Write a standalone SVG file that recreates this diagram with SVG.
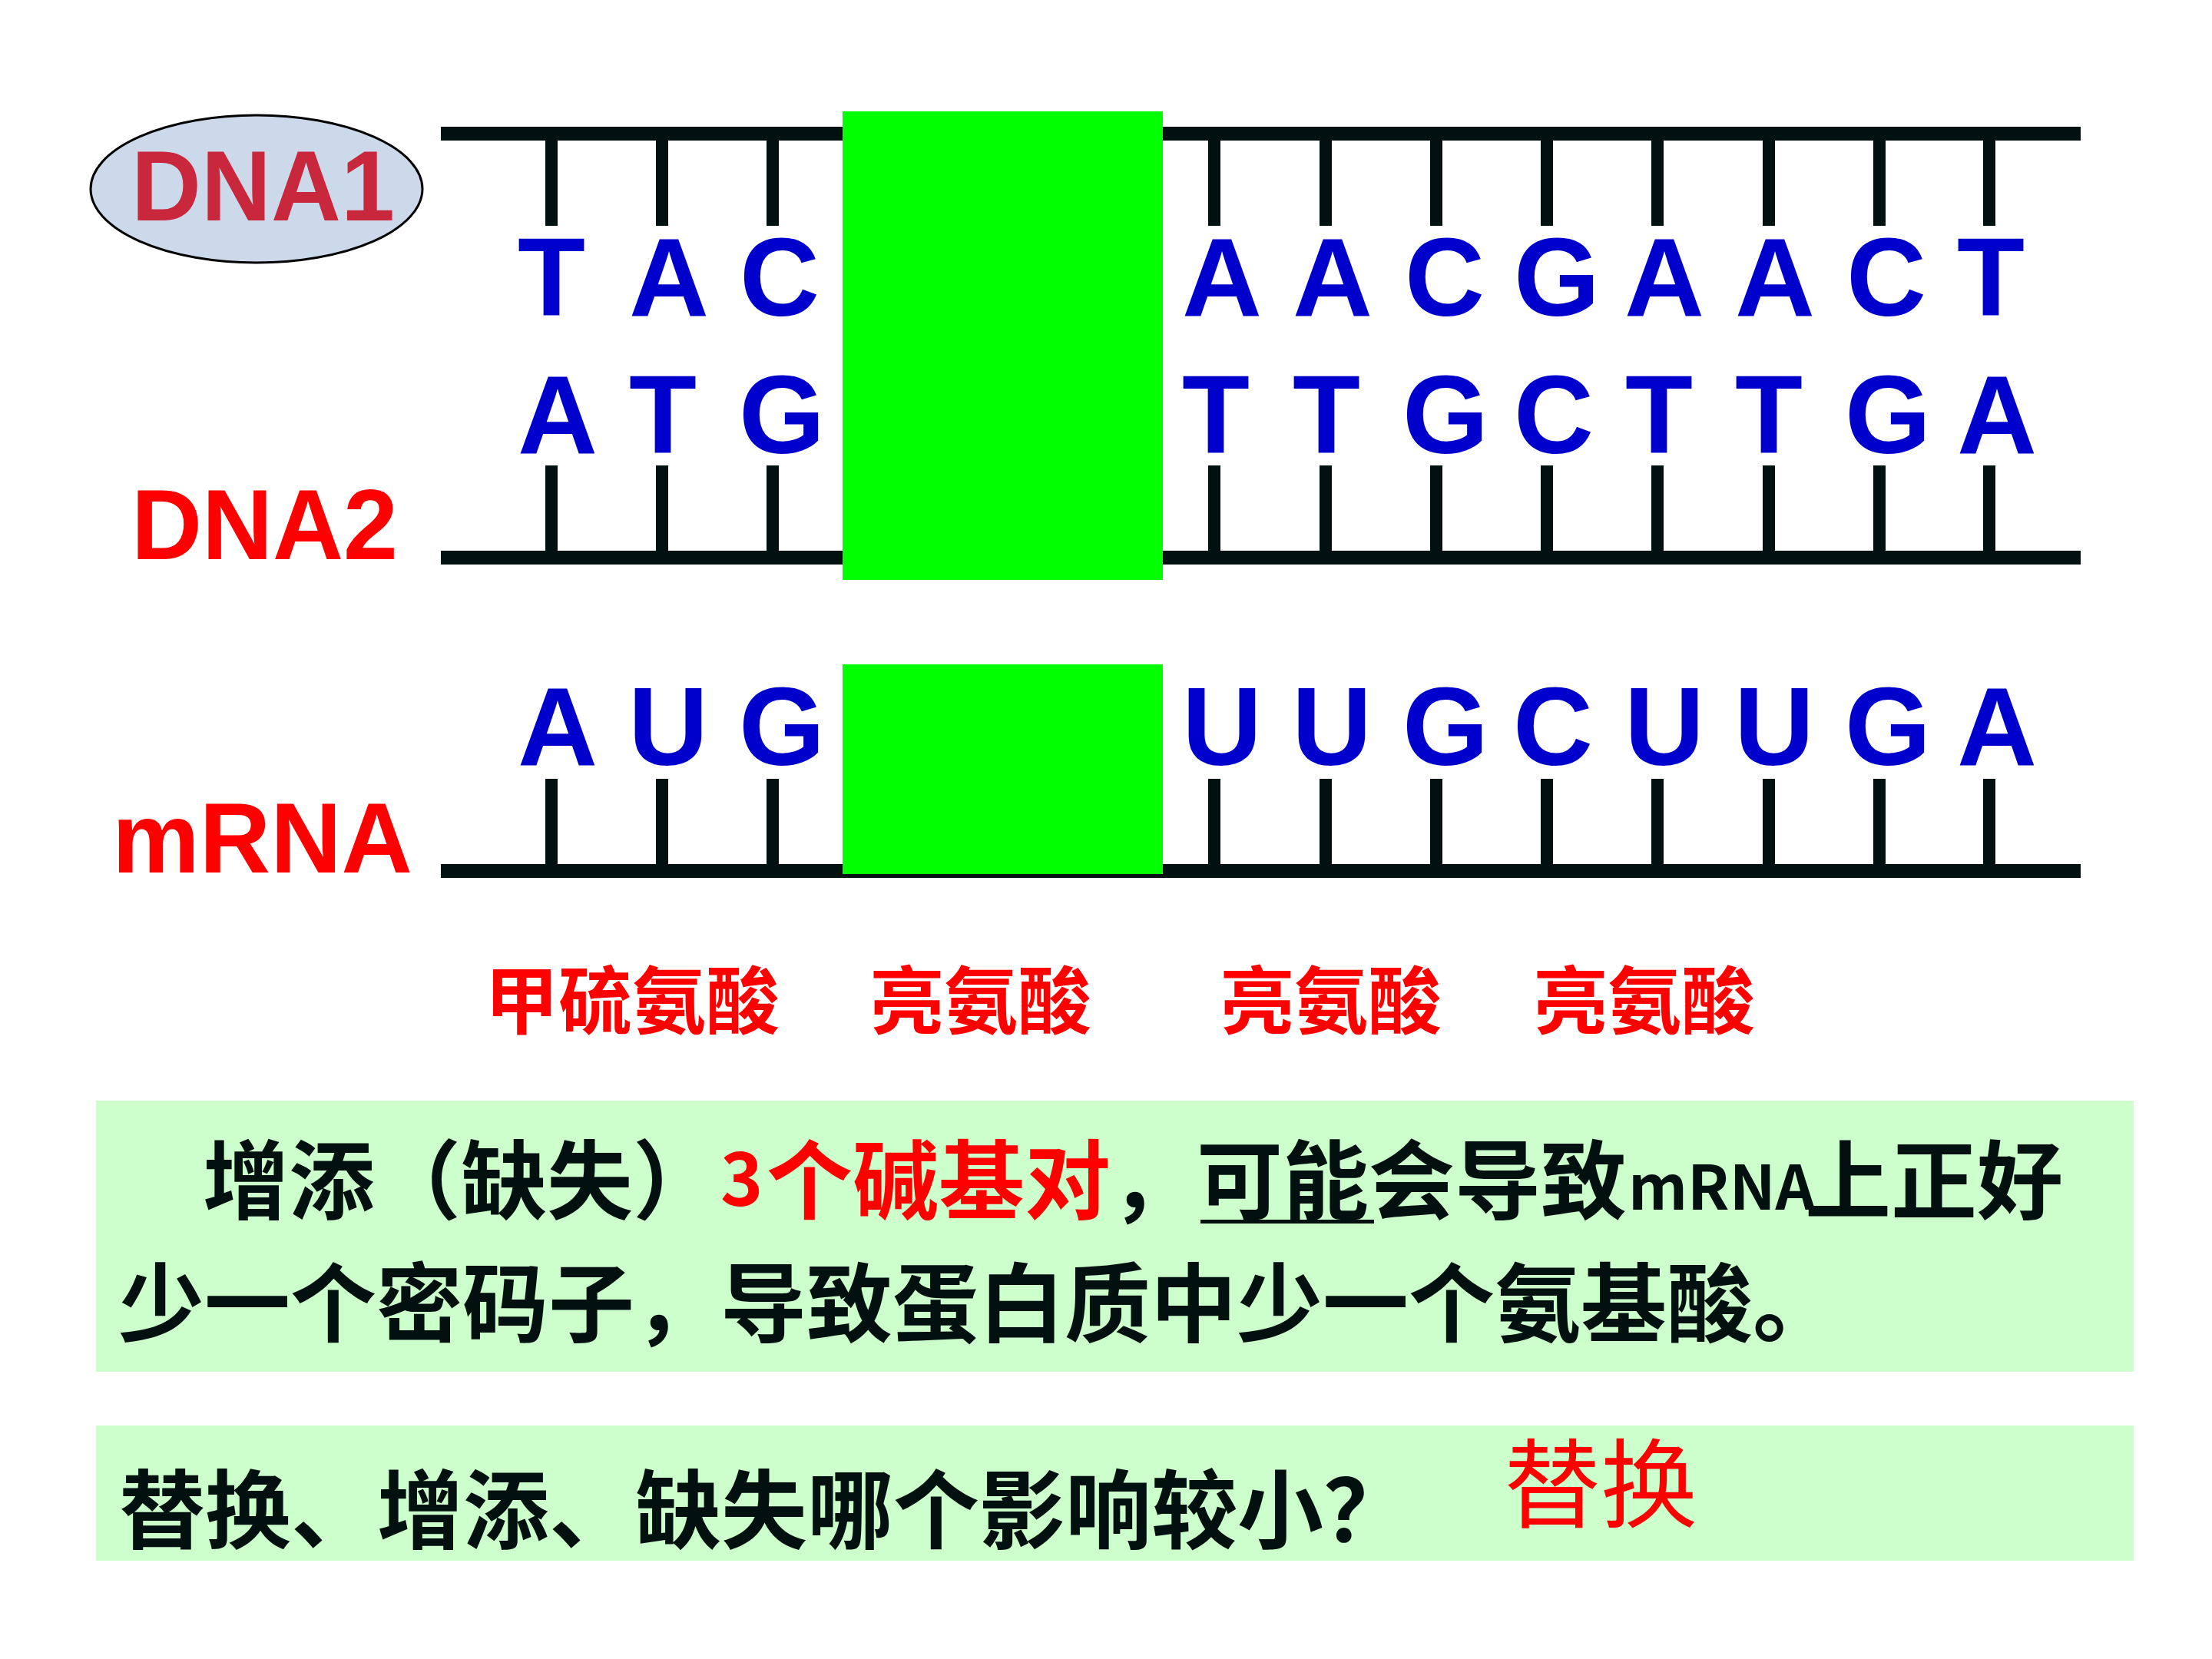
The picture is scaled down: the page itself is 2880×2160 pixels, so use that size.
<svg xmlns="http://www.w3.org/2000/svg" width="2880" height="2160" viewBox="0 0 2880 2160">
  <style>
    .bb { fill: #011111; }
    .tick { fill: #011111; }
    .green { fill: #00FF00; }
    .base { font-family: "Liberation Sans", Arial, sans-serif; font-weight: bold; font-size: 144px; fill: #0000CC; text-anchor: middle; }
    .lbl { font-family: "Liberation Sans", Arial, sans-serif; font-weight: bold; font-size: 130px; }
    .aa { font-family: "Noto Sans CJK SC", "Noto Sans CJK TC", sans-serif; font-weight: 700; font-size: 96px; fill: #FF0000; }
    .cn { font-family: "Noto Sans CJK SC", "Noto Sans CJK TC", sans-serif; font-weight: 700; font-size: 112px; fill: #021010; }
    .answer { font-family: "Noto Sans CJK SC", "Noto Sans CJK TC", sans-serif; font-weight: 400; font-size: 126px; fill: #FF0000; }
    .red { fill: #FF0000; }
    .box { fill: #CCFFCC; }
  </style>
  <rect width="2880" height="2160" fill="#FFFFFF"/>

  <g id="label-dna1">
    <ellipse cx="334" cy="246" rx="216" ry="96" fill="#CCD9EA" stroke="#000000" stroke-width="3"/>
    <text class="lbl" x="171" y="287" fill="#C9283C" textLength="343" lengthAdjust="spacingAndGlyphs">DNA1</text>
  </g>
  <g id="label-dna2">
    <text class="lbl" x="171" y="728" fill="#FF0000" textLength="347" lengthAdjust="spacingAndGlyphs">DNA2</text>
  </g>
  <g id="label-mrna">
    <text class="lbl" x="146" y="1136" fill="#FF0000" textLength="391" lengthAdjust="spacingAndGlyphs">mRNA</text>
  </g>

  <g id="connectors">
    <rect class="bb" x="574" y="165" width="2135" height="18"/>
    <rect class="bb" x="574" y="717" width="2135" height="18"/>
    <rect class="bb" x="574" y="1125" width="2135" height="18"/>
    <g id="dna1-ticks">
      <rect class="tick" x="710" y="174" width="16" height="120"/>
      <rect class="tick" x="854" y="174" width="16" height="120"/>
      <rect class="tick" x="998" y="174" width="16" height="120"/>
      <rect class="tick" x="1573" y="174" width="16" height="120"/>
      <rect class="tick" x="1718" y="174" width="16" height="120"/>
      <rect class="tick" x="1862" y="174" width="16" height="120"/>
      <rect class="tick" x="2006" y="174" width="16" height="120"/>
      <rect class="tick" x="2150" y="174" width="16" height="120"/>
      <rect class="tick" x="2295" y="174" width="16" height="120"/>
      <rect class="tick" x="2439" y="174" width="16" height="120"/>
      <rect class="tick" x="2582" y="174" width="16" height="120"/>
    </g>
    <g id="dna2-ticks">
      <rect class="tick" x="710" y="606" width="16" height="120"/>
      <rect class="tick" x="854" y="606" width="16" height="120"/>
      <rect class="tick" x="998" y="606" width="16" height="120"/>
      <rect class="tick" x="1573" y="606" width="16" height="120"/>
      <rect class="tick" x="1718" y="606" width="16" height="120"/>
      <rect class="tick" x="1862" y="606" width="16" height="120"/>
      <rect class="tick" x="2006" y="606" width="16" height="120"/>
      <rect class="tick" x="2150" y="606" width="16" height="120"/>
      <rect class="tick" x="2295" y="606" width="16" height="120"/>
      <rect class="tick" x="2439" y="606" width="16" height="120"/>
      <rect class="tick" x="2582" y="606" width="16" height="120"/>
    </g>
    <g id="mrna-ticks">
      <rect class="tick" x="710" y="1014" width="16" height="120"/>
      <rect class="tick" x="854" y="1014" width="16" height="120"/>
      <rect class="tick" x="998" y="1014" width="16" height="120"/>
      <rect class="tick" x="1573" y="1014" width="16" height="120"/>
      <rect class="tick" x="1718" y="1014" width="16" height="120"/>
      <rect class="tick" x="1862" y="1014" width="16" height="120"/>
      <rect class="tick" x="2006" y="1014" width="16" height="120"/>
      <rect class="tick" x="2150" y="1014" width="16" height="120"/>
      <rect class="tick" x="2295" y="1014" width="16" height="120"/>
      <rect class="tick" x="2439" y="1014" width="16" height="120"/>
      <rect class="tick" x="2582" y="1014" width="16" height="120"/>
    </g>
  </g>

  <g id="bases">
    <text class="base" x="718 871 1015 1591 1735 1881 2027 2167 2311 2456 2592" y="411">TACAACGAACT</text>
    <text class="base" x="726 863 1018 1583 1727 1882 2023 2160 2303 2458 2600" y="590">ATGTTGCTTGA</text>
    <text class="base" x="726 870 1018 1591 1734 1882 2022 2167 2310 2458 2600" y="996">AUGUUGCUUGA</text>
  </g>

  <g id="mutation-blocks">
    <rect class="green" x="1097" y="145" width="417" height="610"/>
    <rect class="green" x="1097" y="865" width="417" height="273"/>
  </g>

  <g id="amino-acids">
    <text class="aa" x="631" y="1338">甲硫氨酸</text>
    <text class="aa" x="1133" y="1338">亮氨酸</text>
    <text class="aa" x="1589" y="1338">亮氨酸</text>
    <text class="aa" x="1997" y="1338">亮氨酸</text>
  </g>

  <g id="note-box">
    <rect class="box" x="125" y="1433" width="2653" height="353"/>
    <text class="cn" y="1579"><tspan x="264">增添（缺失）</tspan><tspan class="red" x="938" y="1570" style="font-size:94px">3</tspan><tspan class="red" x="998" y="1579">个碱基对</tspan><tspan x="1446">，可能会导致</tspan><tspan x="2120" y="1575" style="font-size:80px">mRNA</tspan><tspan x="2350" y="1579">上正好</tspan></text>
    <rect x="1563" y="1588" width="226" height="5" fill="#021010"/>
    <text class="cn" x="154" y="1739">少一个密码子，导致蛋白质中少一个氨基酸。</text>
  </g>

  <g id="question-box">
    <rect class="box" x="125" y="1856" width="2653" height="176"/>
    <text class="cn" x="155" y="2008">替换、增添、缺失哪个影响较小？</text>
    <text class="answer" x="1958" y="1979">替换</text>
  </g>
</svg>
